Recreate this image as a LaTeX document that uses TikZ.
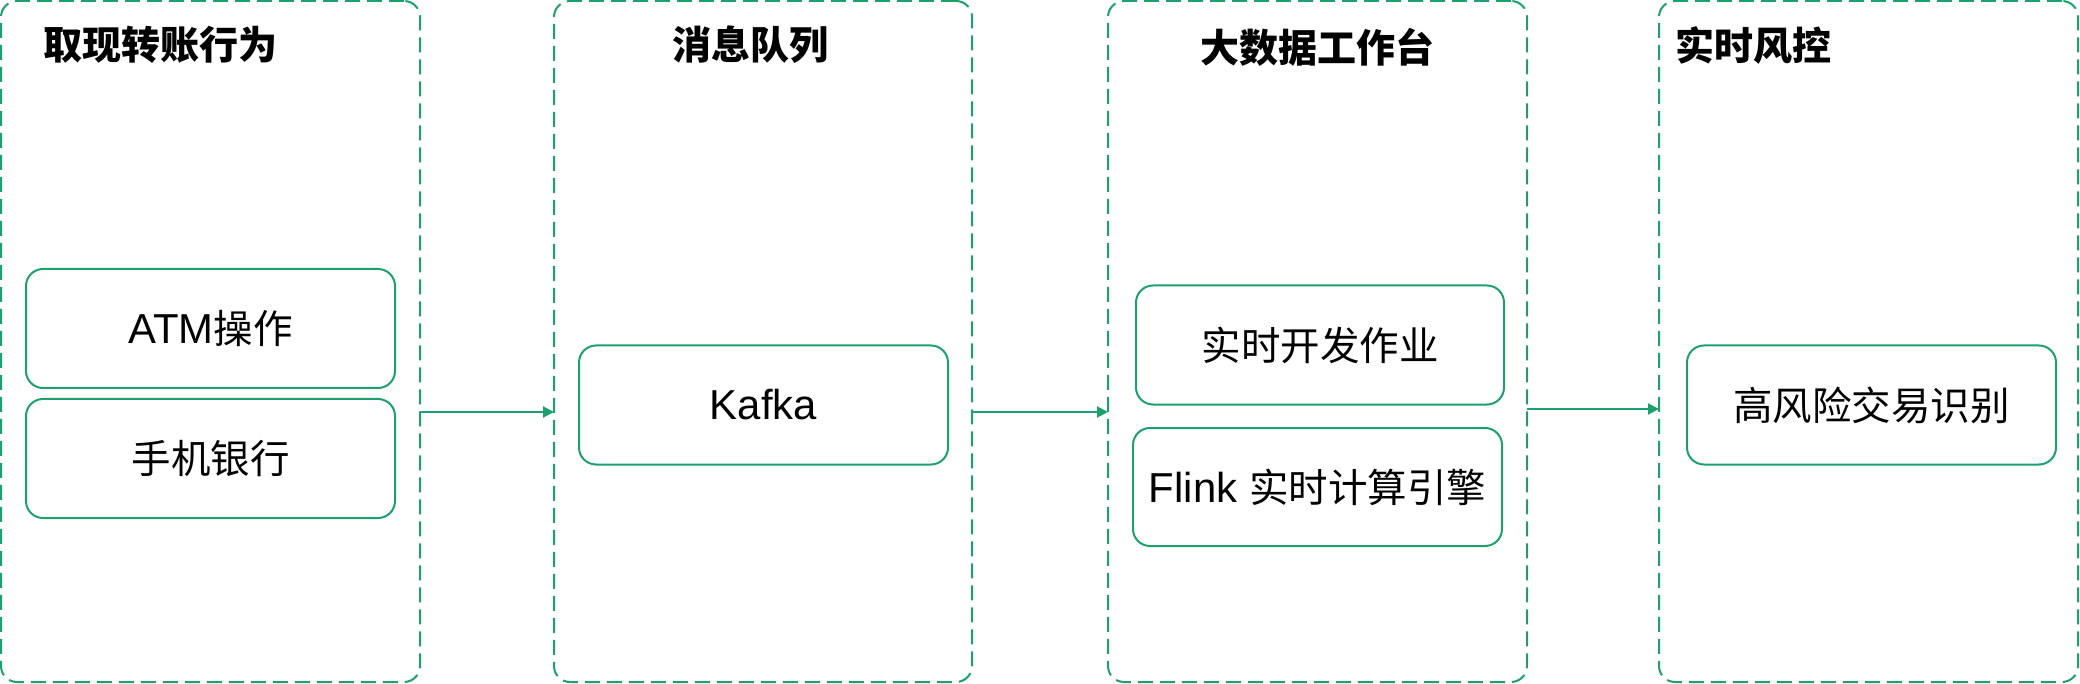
\documentclass[tikz,border=0pt]{standalone}
\usepackage{fontspec}
\setmainfont{Noto Sans CJK SC}
\newfontfamily\lat{Liberation Sans}[Scale=1.06]
\usetikzlibrary{arrows.meta}
\definecolor{lineg}{RGB}{30,160,110}
\tikzset{
  group/.style={draw=lineg, line width=2pt, dash pattern=on 15pt off 7pt, rounded corners=16pt, inner sep=0pt, outer sep=0pt},
  item/.style={draw=lineg, line width=2pt, rounded corners=17pt, inner sep=0pt, outer sep=0pt, minimum width=369pt, minimum height=119pt, font=\fontsize{39.5}{40}\selectfont},
  ttl/.style={inner sep=0pt, font=\fontsize{39}{40}\selectfont\bfseries},
  arr/.style={draw=lineg, line width=2pt, -{Triangle[length=11pt,width=11pt]}}
}
\begin{document}
\begin{tikzpicture}[x=1pt,y=-1pt]
\useasboundingbox (0,0) rectangle (2080,684);
% groups
\node[group, minimum width=419pt, minimum height=681pt] (g1) at (210.5,341.5) {};
\node[group, minimum width=418pt, minimum height=681pt] (g2) at (763,341.5) {};
\node[group, minimum width=419pt, minimum height=681pt] (g3) at (1317.5,341.5) {};
\node[group, minimum width=419pt, minimum height=681pt] (g4) at (1868.5,341.5) {};
% titles
\node[ttl, anchor=west] (t1) at (43,45) {取现转账行为};
\node[ttl] (t2) at (750,45) {消息队列};
\node[ttl] (t3) at (1317,47) {大数据工作台};
\node[ttl, anchor=west] (t4) at (1675,45) {实时风控};
% items
\node[item] (atm) at (210.5,328.5) {{\lat ATM}操作};
\node[item] (mob) at (210.5,458.5) {手机银行};
\node[item] (kafka) at (763.5,405) {\lat Kafka};
\node[item, minimum width=368pt] (dev) at (1320,345) {实时开发作业};
\node[item, minimum height=118pt] (flink) at (1317.5,487) {{\lat Flink }实时计算引擎};
\node[item] (risk) at (1871.5,405) {高风险交易识别};
% connectors
\coordinate (ya) at (0,412);
\coordinate (yb) at (0,409);
\draw[arr] (g1.east |- ya) -- (g2.west |- ya);
\draw[arr] (g2.east |- ya) -- (g3.west |- ya);
\draw[arr] (g3.east |- yb) -- (g4.west |- yb);
\end{tikzpicture}
\end{document}
